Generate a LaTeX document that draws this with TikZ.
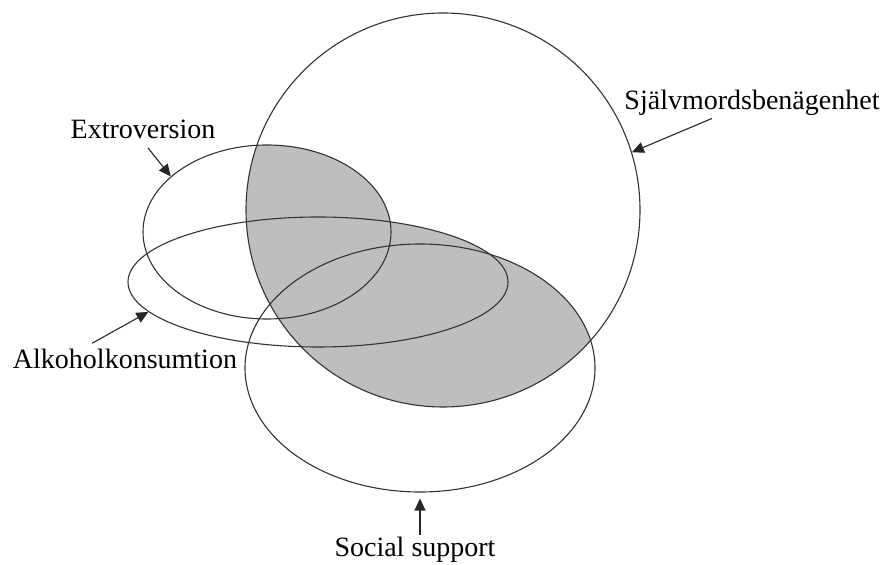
\documentclass[tikz,border=0pt]{standalone}
\usepackage{fontspec}
\setmainfont{Liberation Serif}
\usetikzlibrary{shapes.geometric,arrows.meta}
\definecolor{shadegray}{RGB}{190,190,190}
\begin{document}
\begin{tikzpicture}[x=0.5pt,y=-0.5pt,
  outline/.style={draw=black!80,line width=0.55pt,ellipse,inner sep=0pt},
  term/.style={font=\fontsize{14}{16}\selectfont,anchor=base,inner sep=1pt},
  pointer/.style={draw=black!85,line width=0.55pt,-{Triangle[length=6pt,width=5.5pt]}}]

\useasboundingbox (0,0) rectangle (883,565);

% shaded part of the big circle
\begin{scope}
\clip (443,210) circle[radius=197];
\fill[shadegray] (267,232) ellipse[x radius=124,y radius=87];
\fill[shadegray] (318,282) ellipse[x radius=190,y radius=65];
\fill[shadegray] (420,368) ellipse[x radius=175,y radius=124];
\end{scope}

\node[outline,minimum width=197pt,minimum height=197pt] (self) at (443,210) {};
\node[outline,minimum width=124pt,minimum height=87pt] (extro) at (267,232) {};
\node[outline,minimum width=190pt,minimum height=65pt] (alko) at (318,282) {};
\node[outline,minimum width=175pt,minimum height=124pt] (social) at (420,368) {};

\node[term] (selfT) at (752,110) {Självmordsbenägenhet};
\node[term] (extroT) at (143,139) {Extroversion};
\node[term] (alkoT) at (125,369) {Alkoholkonsumtion};
\node[term] (socialT) at (415,557) {Social support};

\draw[pointer] ([xshift=-20pt]selfT.south) -- (self.17);
\draw[pointer,shorten <=4pt] (extroT.south) -- (extro.150);
\draw[pointer,shorten <=4pt] ([xshift=-20pt]alkoT.north) -- (alko.190);
\draw[pointer,shorten >=3pt] ([xshift=2.5pt]socialT.north) -- (social.south);

\end{tikzpicture}
\end{document}
